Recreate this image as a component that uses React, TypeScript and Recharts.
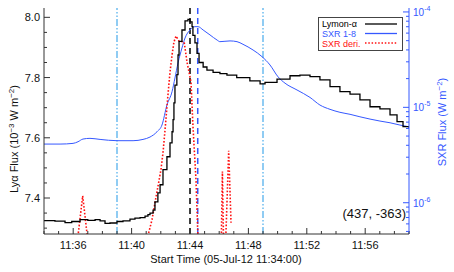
import React from 'react';
import { ComposedChart, Line, XAxis, YAxis, ReferenceLine } from 'recharts';

// minutes after 11:34:00
const lyaTimes = [
  0, 0.75, 1.44, 1.9, 2.47, 3.0, 3.5, 3.84, 4.18, 4.52, 5.0, 5.41, 5.89, 6.23, 6.58, 6.92,
  7.12, 7.26, 7.47, 7.6, 7.8, 7.95, 8.15, 8.42, 8.63, 8.77, 8.84, 8.9, 8.97, 9.1, 9.18, 9.25,
  9.45, 9.66, 9.86, 10.0, 10.14, 10.2, 10.34, 10.48, 10.62, 10.9, 11.16, 11.58, 12.05, 12.53,
  13.2, 14.1, 14.8, 15.14, 15.96, 16.85, 17.53, 18.22, 18.9, 19.59, 20.27, 20.96, 21.64, 22.33,
  23.01, 23.7, 24.18, 24.59, 25.0,
];
const lyaValues = [
  7.325, 7.323, 7.318, 7.322, 7.328, 7.326, 7.328, 7.324, 7.316, 7.317, 7.322, 7.324, 7.33, 7.333, 7.335, 7.34,
  7.345, 7.35, 7.36, 7.387, 7.417, 7.444, 7.494, 7.537, 7.583, 7.62, 7.66, 7.716, 7.775, 7.81, 7.875, 7.92,
  7.958, 7.988, 7.993, 7.985, 7.969, 7.94, 7.915, 7.88, 7.85, 7.835, 7.825, 7.817, 7.813, 7.808,
  7.8, 7.789, 7.779, 7.784, 7.795, 7.806, 7.808, 7.803, 7.792, 7.77, 7.753, 7.745, 7.726, 7.703,
  7.696, 7.676, 7.654, 7.637, 7.633,
];

const sxrTimes = [
  0, 1.1, 1.99, 2.33, 2.67, 3.15, 3.84, 5.0, 6.1, 6.78, 7.26, 7.74, 8.08, 8.42, 8.77, 8.97,
  9.18, 9.45, 9.66, 10.0, 10.34, 10.55, 10.9, 11.37, 11.85, 12.05, 12.74, 13.22, 13.63, 14.32,
  14.93, 15.48, 16.03, 16.51, 17.33, 18.22, 18.9, 19.59, 20.27, 20.96, 21.64, 22.33, 23.01,
  23.7, 24.38, 25.0,
];
const sxrValues = [
  4.12e-6, 4.12e-6, 4.19e-6, 4.36e-6, 4.65e-6, 4.73e-6, 4.61e-6, 4.47e-6, 4.47e-6, 4.61e-6,
  4.88e-6, 5.55e-6, 6.52e-6, 1.057e-5, 1.459e-5, 2.03e-5, 2.92e-5, 4.19e-5, 5.33e-5, 6.47e-5,
  7.01e-5, 7.01e-5, 6.47e-5, 5.74e-5, 5.08e-5, 4.88e-5, 4.97e-5, 4.88e-5, 4.58e-5, 3.99e-5,
  3.4e-5, 2.78e-5, 2.09e-5, 1.79e-5, 1.52e-5, 1.27e-5, 1.057e-5, 9.53e-6, 8.87e-6, 8.45e-6,
  7.96e-6, 7.53e-6, 7.18e-6, 6.89e-6, 6.52e-6, 6.25e-6,
];

// SXR derivative, drawn on the Lya scale; null = negative (not plotted)
const derivTimes = [
  2.27, 2.65, 3.02, 3.05,
  7.05, 7.4, 7.6, 7.8, 8.01, 8.15, 8.29, 8.49, 8.63, 8.77, 8.9, 9.04, 9.25, 9.6, 9.8, 10.07,
  10.2, 10.41, 10.55, 10.6,
  12.14, 12.22, 12.3, 12.35,
  12.44, 12.65, 12.81,
];
const derivValues = [
  7.25, 7.407, 7.25, null,
  7.262, 7.328, 7.384, 7.437, 7.494, 7.55, 7.626, 7.742, 7.818, 7.875, 7.918, 7.938, 7.921, 7.918, 7.85, 7.785,
  7.642, 7.46, 7.262, null,
  7.25, 7.488, 7.25, null,
  7.25, 7.557, 7.318,
];

const minuteTicks = [0, 1, 2, 3, 4, 5, 6, 7, 8, 9, 10, 11, 12, 13, 14, 15, 16, 17, 18, 19, 20, 21, 22, 23, 24, 25];
const labelMinutes = [2, 6, 10, 14, 18, 22];
const timeLabels = ['11:36', '11:40', '11:44', '11:48', '11:52', '11:56'];

const lyaTicks = [7.3, 7.35, 7.4, 7.45, 7.5, 7.55, 7.6, 7.65, 7.7, 7.75, 7.8, 7.85, 7.9, 7.95, 8.0];
const sxrTicks = [
  5e-7, 6e-7, 7e-7, 8e-7, 9e-7,
  1e-6, 2e-6, 3e-6, 4e-6, 5e-6, 6e-6, 7e-6, 8e-6, 9e-6,
  1e-5, 2e-5, 3e-5, 4e-5, 5e-5, 6e-5, 7e-5, 8e-5, 9e-5,
  1e-4,
];

const windowTimes = [5, 15];
const lyaPeakTime = 10;
const sxrPeakTime = 10.53;

const lyaData = lyaTimes.map((t, i) => ({ t, v: lyaValues[i] }));
const sxrData = sxrTimes.map((t, i) => ({ t, v: sxrValues[i] }));
const derivData = derivTimes.map((t, i) => ({ t, v: derivValues[i] }));

const AXIS = '#333';
const BLUE = '#3558ff';
const RED = '#ff1010';
const CYAN = '#6cbcef';

function BottomTick({ x, y, payload }: any) {
  const i = labelMinutes.indexOf(payload.value);
  return (
    <g>
      <line x1={x} x2={x} y1={y} y2={y - (i >= 0 ? 6 : 3)} stroke={AXIS} />
      {i >= 0 && (
        <text x={x} y={y + 15} textAnchor="middle" fontSize={11} fill="#111">
          {timeLabels[i]}
        </text>
      )}
    </g>
  );
}

function TopTick({ x, y, payload }: any) {
  const major = labelMinutes.indexOf(payload.value) >= 0;
  return <line x1={x} x2={x} y1={y} y2={y + (major ? 6 : 3)} stroke={AXIS} />;
}

function LeftTick({ x, y, payload }: any) {
  const v = payload.value;
  const major = Math.abs(v * 5 - Math.round(v * 5)) < 1e-6;
  return (
    <g>
      <line x1={x} x2={x + (major ? 6 : 3)} y1={y} y2={y} stroke={AXIS} />
      {major && (
        <text x={x - 4} y={y + 4} textAnchor="end" fontSize={11} fill="#111">
          {v.toFixed(1)}
        </text>
      )}
    </g>
  );
}

function RightTick({ x, y, payload }: any) {
  const lg = Math.log10(payload.value);
  const major = Math.abs(lg - Math.round(lg)) < 1e-6;
  return (
    <g>
      <line x1={x} x2={x - (major ? 6 : 3)} y1={y} y2={y} stroke={BLUE} />
      {major && (
        <text x={x + 4} y={y + 4} fontSize={10} fill={BLUE}>
          10
          <tspan dy={-5} fontSize={7}>
            {`-${Math.abs(Math.round(lg))}`}
          </tspan>
        </text>
      )}
    </g>
  );
}

export default function App() {
  return (
    <div
      style={{
        position: 'absolute',
        left: 0,
        top: 0,
        width: 454,
        height: 272,
        background: '#fff',
        fontFamily: '"Liberation Sans", Arial, sans-serif',
      }}
    >
      <ComposedChart width={454} height={272} margin={{ top: 8, right: 0, bottom: 0, left: 0 }}>
        <XAxis
          xAxisId="b"
          dataKey="t"
          type="number"
          domain={[0, 25]}
          ticks={minuteTicks}
          interval={0}
          tick={BottomTick}
          tickLine={false}
          tickSize={0}
          tickMargin={0}
          height={38}
          axisLine={{ stroke: AXIS }}
          allowDataOverflow
        />
        <XAxis
          xAxisId="top"
          orientation="top"
          dataKey="t"
          type="number"
          domain={[0, 25]}
          ticks={minuteTicks}
          interval={0}
          tick={TopTick}
          tickLine={false}
          tickSize={0}
          tickMargin={0}
          height={0}
          axisLine={{ stroke: AXIS }}
          allowDataOverflow
        />
        <YAxis
          yAxisId="left"
          type="number"
          domain={[7.2805, 8.031]}
          ticks={lyaTicks}
          interval={0}
          tick={LeftTick}
          tickLine={false}
          tickSize={0}
          tickMargin={0}
          width={44}
          axisLine={{ stroke: AXIS }}
          allowDataOverflow
        />
        <YAxis
          yAxisId="right"
          orientation="right"
          type="number"
          scale="log"
          domain={[4.7e-7, 1.1e-4]}
          ticks={sxrTicks}
          interval={0}
          tick={RightTick}
          tickLine={false}
          tickSize={0}
          tickMargin={0}
          width={45}
          axisLine={{ stroke: BLUE }}
          allowDataOverflow
        />

        {windowTimes.map((t) => (
          <ReferenceLine
            key={t}
            x={t}
            xAxisId="b"
            yAxisId="left"
            stroke={CYAN}
            strokeWidth={1.5}
            strokeDasharray="7 2 1.5 2 1.5 2"
          />
        ))}
        <ReferenceLine x={lyaPeakTime} xAxisId="b" yAxisId="left" stroke="#000" strokeWidth={1.5} strokeDasharray="6 4" />
        <ReferenceLine x={sxrPeakTime} xAxisId="b" yAxisId="left" stroke={BLUE} strokeWidth={1.5} strokeDasharray="6 4" />

        <Line
          data={sxrData}
          dataKey="v"
          xAxisId="b"
          yAxisId="right"
          type="monotone"
          stroke={BLUE}
          strokeWidth={1}
          dot={false}
          isAnimationActive={false}
        />
        <Line
          data={derivData}
          dataKey="v"
          xAxisId="b"
          yAxisId="left"
          type="linear"
          stroke={RED}
          strokeWidth={1.6}
          strokeDasharray="1.6 1.8"
          dot={false}
          connectNulls={false}
          isAnimationActive={false}
        />
        <Line
          data={lyaData}
          dataKey="v"
          xAxisId="b"
          yAxisId="left"
          type="stepAfter"
          stroke="#000"
          strokeWidth={1.3}
          dot={false}
          isAnimationActive={false}
        />
      </ComposedChart>

      <svg
        width={454}
        height={272}
        style={{ position: 'absolute', left: 0, top: 0, pointerEvents: 'none' }}
      >
        <text transform="translate(18,139) rotate(-90)" textAnchor="middle" fontSize={11} fill="#111">
          Lyα Flux (10
          <tspan dy={-4} fontSize={8}>−3</tspan>
          <tspan dy={4}> W m</tspan>
          <tspan dy={-4} fontSize={8}>−2</tspan>
          <tspan dy={4}>)</tspan>
        </text>
        <text transform="translate(446,122) rotate(-90)" textAnchor="middle" fontSize={11} fill={BLUE}>
          SXR Flux (W m
          <tspan dy={-4} fontSize={8}>−2</tspan>
          <tspan dy={4}>)</tspan>
        </text>
        <text x={226} y={263} textAnchor="middle" fontSize={11} fill="#111">
          Start Time (05-Jul-12 11:34:00)
        </text>
        <text x={406} y={218} textAnchor="end" fontSize={13} fill="#111">
          (437, -363)
        </text>

        <rect x={318.5} y={17.5} width={84} height={33} fill="#fff" stroke="#444" />
        <text x={322} y={27} fontSize={9} fill="#000">Lymon-α</text>
        <line x1={365} x2={397} y1={24} y2={24} stroke="#000" strokeWidth={1.3} />
        <text x={322} y={37} fontSize={9} fill={BLUE}>SXR 1-8</text>
        <line x1={365} x2={397} y1={33.5} y2={33.5} stroke={BLUE} strokeWidth={1.3} />
        <text x={322} y={46.5} fontSize={9} fill={RED}>SXR deri.</text>
        <line x1={365} x2={397} y1={43} y2={43} stroke={RED} strokeWidth={1.5} strokeDasharray="1.5 1.8" />
      </svg>
    </div>
  );
}
